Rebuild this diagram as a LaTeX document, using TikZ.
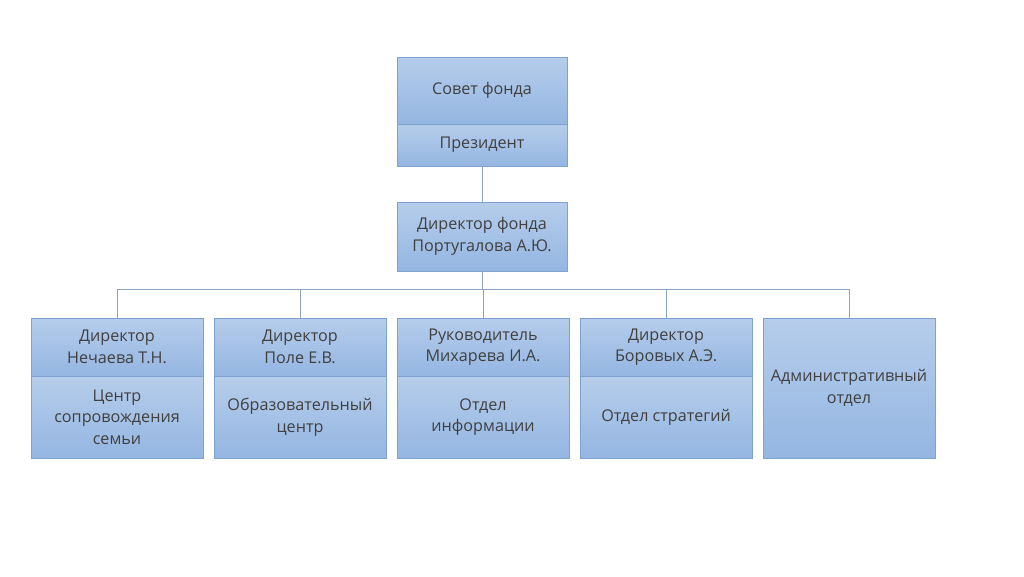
\documentclass[tikz,border=0pt]{standalone}
\usepackage{fontspec}
\setmainfont{Open Sans}
\usetikzlibrary{positioning,calc}

\definecolor{boxtop}{HTML}{B6CDEB}
\definecolor{boxbot}{HTML}{94B6E2}
\definecolor{boxline}{HTML}{7EA2D0}
\definecolor{wire}{HTML}{8AA4C6}
\definecolor{txt}{HTML}{404040}

\begin{document}
\begin{tikzpicture}
    [x=0.03cm, y=-0.03cm,
     unit/.style={draw=boxline,line width=0.8pt,top color=boxtop,bottom color=boxbot,
       minimum width=5.16cm,inner sep=0pt,outer sep=0pt,align=center,text=txt,
       font=\fontsize{13.8}{18.5}\selectfont},
     head/.style={unit,minimum height=1.74cm},
     body/.style={unit,minimum height=2.46cm},
     wire/.style={draw=wire,line width=0.8pt}]
    \useasboundingbox (0, 0) rectangle (1024, 576);

    % Top
    \node (sovet) at (397, 57) [unit, anchor=north west, minimum width=5.1cm, minimum height=2.01cm] {Совет фонда};
    \node (prez) [below=0 of sovet] [unit, minimum width=5.1cm, minimum height=1.26cm] {Президент};
    \node (dir) at (397, 202) [unit, anchor=north west, minimum width=5.1cm, minimum height=2.07cm]
    {Директор фонда\\Португалова А.Ю.};

    % Departments
    \node (head1) at (31, 318) [head, anchor=north west] {Директор\\Нечаева Т.Н.};
    \node (body1) [below=0 of head1] [body] {Центр\\сопровождения\\семьи};
    \node (head2) [right=0.33cm of head1] [head] {Директор\\Поле Е.В.};
    \node (body2) [below=0 of head2] [body] {Образовательный\\центр};
    \node (head3) [right=0.33cm of head2] [head] {Руководитель\\Михарева И.А.};
    \node (body3) [below=0 of head3] [body] {Отдел\\информации};
    \node (head4) [right=0.33cm of head3] [head] {Директор\\Боровых А.Э.};
    \node (body4) [below=0 of head4] [body] {Отдел стратегий};
    \node (adm) [right=0.33cm of head4.north east, anchor=north west] [unit, minimum height=4.2cm]
    {Административный\\отдел};

    \draw [wire] (prez.south) -- (dir.north);
    \draw [wire] (dir.south) |- ($(head1.north) - (0, 29)$) -- (head1.north);
    \draw [wire] (dir.south) |- ($(head2.north) - (0, 29)$) -- (head2.north);
    \draw [wire] (dir.south) |- ($(head3.north) - (0, 29)$) -- (head3.north);
    \draw [wire] (dir.south) |- ($(head4.north) - (0, 29)$) -- (head4.north);
    \draw [wire] (dir.south) |- ($(adm.north) - (0, 29)$) -- (adm.north);
\end{tikzpicture}
\end{document}
